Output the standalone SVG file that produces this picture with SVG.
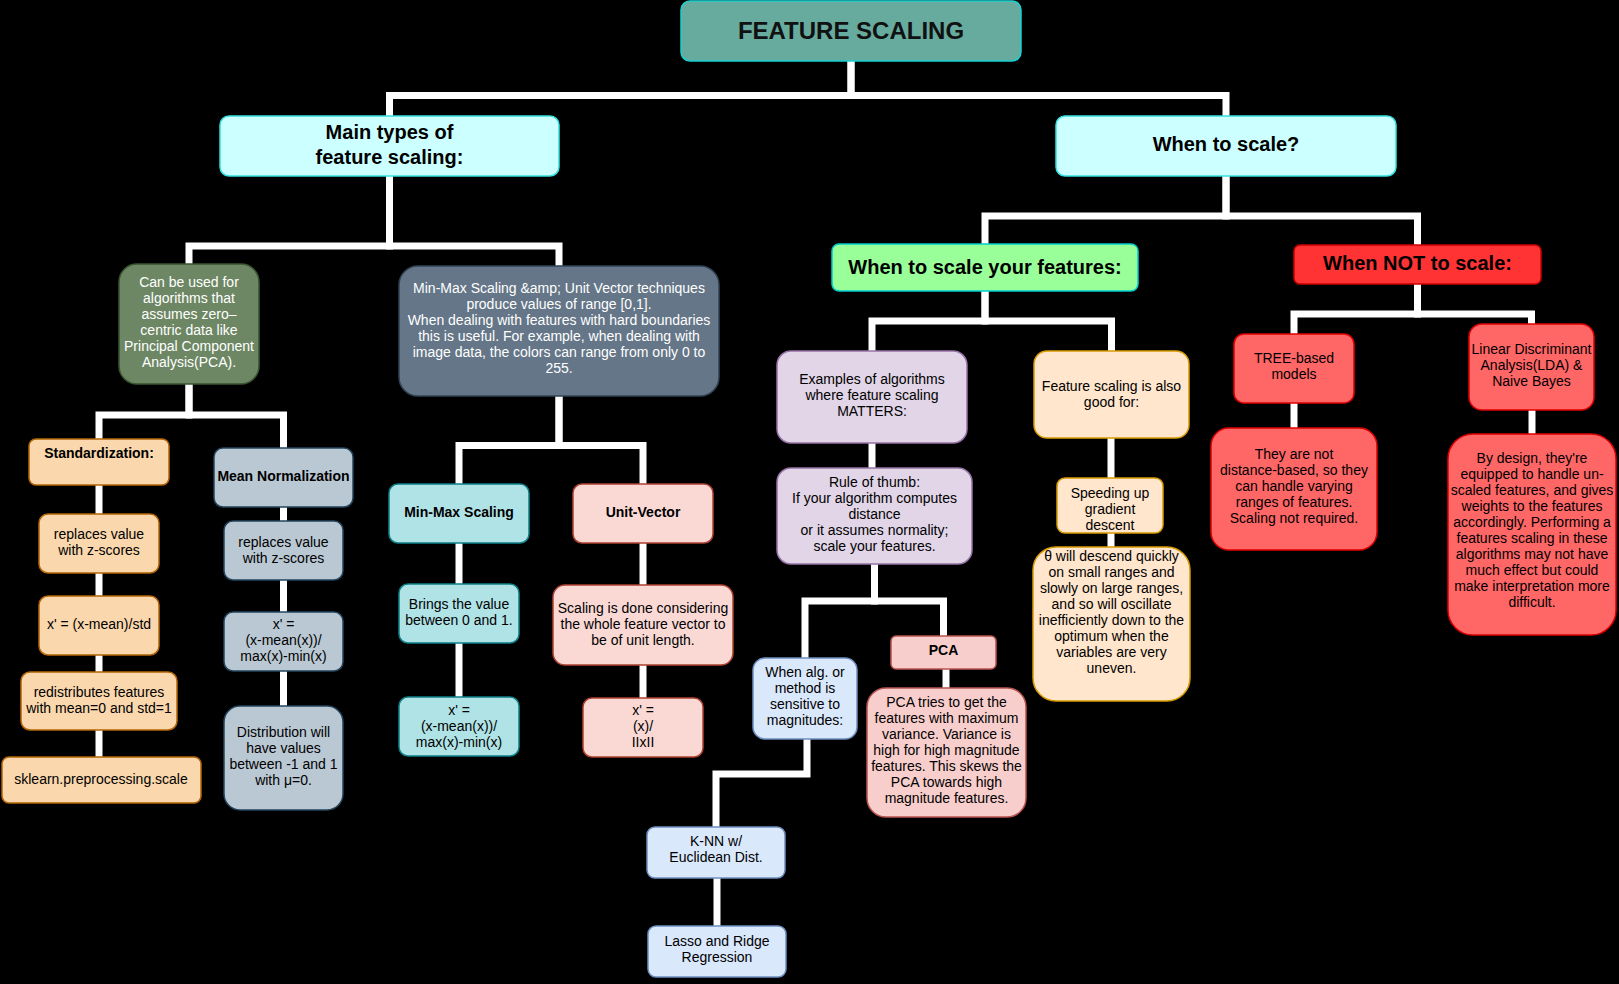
<svg xmlns="http://www.w3.org/2000/svg" width="1619" height="984" viewBox="0 0 1619 984">
<style>
text{font-family:"Liberation Sans",Arial,Helvetica,sans-serif;font-size:14px;text-anchor:middle;fill:#000}
.b{font-weight:bold}
.t20{font-size:20px;font-weight:bold}
.t24{font-size:24px;font-weight:bold;fill:#111}
.w{fill:#fff}
.c path{fill:none;stroke:#fff;stroke-width:7;stroke-linejoin:miter}
rect{stroke-width:1.5}
.teal{fill:#67AB9F;stroke:#1ad1d1}
.cyan{fill:#CCFFFF;stroke:#33E0E0}
.lgreen{fill:#99FF99;stroke:#00CCCC}
.olive{fill:#6D8764;stroke:#3A5431}
.slate{fill:#647687;stroke:#314354}
.orange{fill:#FAD7AC;stroke:#B46504}
.steel{fill:#BAC8D3;stroke:#23445D}
.aqua{fill:#B0E3E6;stroke:#0E8088}
.pink{fill:#FAD9D5;stroke:#AE4132}
.purple{fill:#E1D5E7;stroke:#9673A6}
.peach{fill:#FFE6CC;stroke:#D79B00}
.blue{fill:#DAE8FC;stroke:#6C8EBF}
.rose{fill:#F8CECC;stroke:#B85450}
.red{fill:#FF3333;stroke:#CC0000}
.salmon{fill:#FF6666;stroke:#E00000}
</style>
<rect x="0" y="0" width="1619" height="984" fill="#000"/>
<g id="connectors" class="c">
<path d="M851,61 V95.5 H389.5 V116"/>
<path d="M851,61 V95.5 H1226 V116"/>
<path d="M389.5,176 V246 H189 V264"/>
<path d="M389.5,176 V246 H559 V266"/>
<path d="M189,384 V415 H99 V439"/>
<path d="M189,384 V415 H283.5 V448"/>
<path d="M99,485 V514"/>
<path d="M99,573 V596"/>
<path d="M99,655 V672"/>
<path d="M99,730 V757"/>
<path d="M283.5,507 V521"/>
<path d="M283.5,580 V612"/>
<path d="M283.5,671 V706"/>
<path d="M559,396 V445.5 H459 V484"/>
<path d="M559,396 V445.5 H643 V484"/>
<path d="M459,543 V584"/>
<path d="M459,643 V697"/>
<path d="M643,543 V585"/>
<path d="M643,665 V698"/>
<path d="M1226,176 V216 H985 V244"/>
<path d="M1226,176 V216 H1417.5 V245"/>
<path d="M985,291 V321 H872 V351"/>
<path d="M985,291 V321 H1111.5 V351"/>
<path d="M872,443 V468"/>
<path d="M874.5,564 V601 H805 V658"/>
<path d="M874.5,564 V601 H943.5 V636"/>
<path d="M946,669 V688"/>
<path d="M807,739 V774 H716 V827"/>
<path d="M717,878 V926"/>
<path d="M1111,438 V478"/>
<path d="M1111,533 V547"/>
<path d="M1417.5,284 V314 H1294 V334"/>
<path d="M1417.5,284 V314 H1531.5 V324"/>
<path d="M1294,403 V428"/>
<path d="M1532,410 V434"/>
</g>
<g id="title"><rect class="teal" x="681" y="1" width="340" height="60" rx="9"/><text class="t24" x="851" y="38.5">FEATURE SCALING</text></g>
<g id="main-types"><rect class="cyan" x="220" y="116" width="339" height="60" rx="9"/><text class="t20" x="389.5" y="139">Main types of</text><text class="t20" x="389.5" y="164">feature scaling:</text></g>
<g id="when-to-scale"><rect class="cyan" x="1056" y="116" width="340" height="60" rx="9"/><text class="t20" x="1226" y="151">When to scale?</text></g>
<g id="zero-centric"><rect class="olive" x="119" y="264" width="140" height="120" rx="18"/>
<text class="w" x="189" y="287">Can be used for</text><text class="w" x="189" y="303">algorithms that</text><text class="w" x="189" y="319">assumes zero–</text><text class="w" x="189" y="335">centric data like</text><text class="w" x="189" y="351">Principal Component</text><text class="w" x="189" y="367">Analysis(PCA).</text></g>
<g id="range-note"><rect class="slate" x="399" y="266" width="320" height="130" rx="19"/>
<text class="w" x="559" y="293">Min-Max Scaling &amp;amp; Unit Vector techniques</text><text class="w" x="559" y="309">produce values of range [0,1].</text><text class="w" x="559" y="325">When dealing with features with hard boundaries</text><text class="w" x="559" y="341">this is useful. For example, when dealing with</text><text class="w" x="559" y="357">image data, the colors can range from only 0 to</text><text class="w" x="559" y="373">255.</text></g>
<g id="standardization"><rect class="orange" x="29" y="439" width="140" height="46" rx="7"/><text class="b" x="99" y="458">Standardization:</text></g>
<g id="std-zscores"><rect class="orange" x="39" y="514" width="120" height="59" rx="9"/><text x="99" y="539">replaces value</text><text x="99" y="555">with z-scores</text></g>
<g id="std-formula"><rect class="orange" x="39" y="596" width="120" height="59" rx="9"/><text x="99" y="629">x' = (x-mean)/std</text></g>
<g id="std-redistributes"><rect class="orange" x="21" y="672" width="156" height="58" rx="9"/><text x="99" y="697">redistributes features</text><text x="99" y="713">with mean=0 and std=1</text></g>
<g id="std-sklearn"><rect class="orange" x="2" y="757" width="199" height="46" rx="7"/><text x="101" y="784">sklearn.preprocessing.scale</text></g>
<g id="mean-normalization"><rect class="steel" x="214" y="448" width="139" height="59" rx="9"/><text class="b" x="283.5" y="481">Mean Normalization</text></g>
<g id="mn-zscores"><rect class="steel" x="224" y="521" width="119" height="59" rx="9"/><text x="283.5" y="547">replaces value</text><text x="283.5" y="563">with z-scores</text></g>
<g id="mn-formula"><rect class="steel" x="224" y="612" width="119" height="59" rx="9"/><text x="283.5" y="629">x' =</text><text x="283.5" y="645">(x-mean(x))/</text><text x="283.5" y="661">max(x)-min(x)</text></g>
<g id="mn-distribution"><rect class="steel" x="224" y="706" width="119" height="104" rx="16"/><text x="283.5" y="737">Distribution will</text><text x="283.5" y="753">have values</text><text x="283.5" y="769">between -1 and 1</text><text x="283.5" y="785">with μ=0.</text></g>
<g id="min-max"><rect class="aqua" x="389" y="484" width="140" height="59" rx="9"/><text class="b" x="459" y="517">Min-Max Scaling</text></g>
<g id="mm-brings"><rect class="aqua" x="399" y="584" width="120" height="59" rx="9"/><text x="459" y="609">Brings the value</text><text x="459" y="625">between 0 and 1.</text></g>
<g id="mm-formula"><rect class="aqua" x="399" y="697" width="120" height="59" rx="9"/><text x="459" y="715">x' =</text><text x="459" y="731">(x-mean(x))/</text><text x="459" y="747">max(x)-min(x)</text></g>
<g id="unit-vector"><rect class="pink" x="573" y="484" width="140" height="59" rx="9"/><text class="b" x="643" y="517">Unit-Vector</text></g>
<g id="uv-scaling"><rect class="pink" x="553" y="585" width="180" height="80" rx="12"/><text x="643" y="613">Scaling is done considering</text><text x="643" y="629">the whole feature vector to</text><text x="643" y="645">be of unit length.</text></g>
<g id="uv-formula"><rect class="pink" x="583" y="698" width="120" height="59" rx="9"/><text x="643" y="715">x' =</text><text x="643" y="731">(x)/</text><text x="643" y="747">IIxII</text></g>
<g id="when-features"><rect class="lgreen" x="832" y="244" width="306" height="47" rx="7"/><text class="t20" x="985" y="274">When to scale your features:</text></g>
<g id="when-not"><rect class="red" x="1294" y="245" width="247" height="39" rx="6"/><text class="t20" x="1417.5" y="270">When NOT to scale:</text></g>
<g id="examples"><rect class="purple" x="777" y="351" width="190" height="92" rx="14"/><text x="872" y="384">Examples of algorithms</text><text x="872" y="400">where feature scaling</text><text x="872" y="416">MATTERS:</text></g>
<g id="rule-of-thumb"><rect class="purple" x="777" y="468" width="195" height="96" rx="14"/><text x="874.5" y="487">Rule of thumb:</text><text x="874.5" y="503">If your algorithm computes</text><text x="874.5" y="519">distance</text><text x="874.5" y="535">or it assumes normality;</text><text x="874.5" y="551">scale your features.</text></g>
<g id="sensitive"><rect class="blue" x="753" y="658" width="104" height="81" rx="12"/><text x="805" y="677">When alg. or</text><text x="805" y="693">method is</text><text x="805" y="709">sensitive to</text><text x="805" y="725">magnitudes:</text></g>
<g id="knn"><rect class="blue" x="647" y="827" width="138" height="51" rx="8"/><text x="716" y="846">K-NN w/</text><text x="716" y="862">Euclidean Dist.</text></g>
<g id="lasso"><rect class="blue" x="648" y="926" width="138" height="51" rx="8"/><text x="717" y="946">Lasso and Ridge</text><text x="717" y="962">Regression</text></g>
<g id="pca"><rect class="rose" x="891" y="636" width="105" height="33" rx="5"/><text class="b" x="943.5" y="655">PCA</text></g>
<g id="pca-note"><rect class="rose" x="867" y="688" width="159" height="129" rx="19"/><text x="946.5" y="707">PCA tries to get the</text><text x="946.5" y="723">features with maximum</text><text x="946.5" y="739">variance. Variance is</text><text x="946.5" y="755">high for high magnitude</text><text x="946.5" y="771">features. This skews the</text><text x="946.5" y="787">PCA towards high</text><text x="946.5" y="803">magnitude features.</text></g>
<g id="good-for"><rect class="peach" x="1034" y="351" width="155" height="87" rx="13"/><text x="1111.5" y="391">Feature scaling is also</text><text x="1111.5" y="407">good for:</text></g>
<g id="gradient"><rect class="peach" x="1057" y="478" width="106" height="55" rx="8"/><text x="1110" y="498">Speeding up</text><text x="1110" y="514">gradient</text><text x="1110" y="530">descent</text></g>
<g id="theta"><rect class="peach" x="1033" y="547" width="157" height="154" rx="23"/><text x="1111.5" y="561">θ will descend quickly</text><text x="1111.5" y="577">on small ranges and</text><text x="1111.5" y="593">slowly on large ranges,</text><text x="1111.5" y="609">and so will oscillate</text><text x="1111.5" y="625">inefficiently down to the</text><text x="1111.5" y="641">optimum when the</text><text x="1111.5" y="657">variables are very</text><text x="1111.5" y="673">uneven.</text></g>
<g id="tree"><rect class="salmon" x="1234" y="334" width="120" height="69" rx="10"/><text x="1294" y="363">TREE-based</text><text x="1294" y="379">models</text></g>
<g id="tree-note"><rect class="salmon" x="1211" y="428" width="166" height="122" rx="18"/><text x="1294" y="459">They are not</text><text x="1294" y="475">distance-based, so they</text><text x="1294" y="491">can handle varying</text><text x="1294" y="507">ranges of features.</text><text x="1294" y="523">Scaling not required.</text></g>
<g id="lda"><rect class="salmon" x="1469" y="324" width="125" height="86" rx="13"/><text x="1531.5" y="354">Linear Discriminant</text><text x="1531.5" y="370">Analysis(LDA) &amp;</text><text x="1531.5" y="386">Naive Bayes</text></g>
<g id="lda-note"><rect class="salmon" x="1448" y="434" width="168" height="201" rx="25"/><text x="1532" y="463">By design, they're</text><text x="1532" y="479">equipped to handle un-</text><text x="1532" y="495">scaled features, and gives</text><text x="1532" y="511">weights to the features</text><text x="1532" y="527">accordingly. Performing a</text><text x="1532" y="543">features scaling in these</text><text x="1532" y="559">algorithms may not have</text><text x="1532" y="575">much effect but could</text><text x="1532" y="591">make interpretation more</text><text x="1532" y="607">difficult.</text></g>
</svg>
